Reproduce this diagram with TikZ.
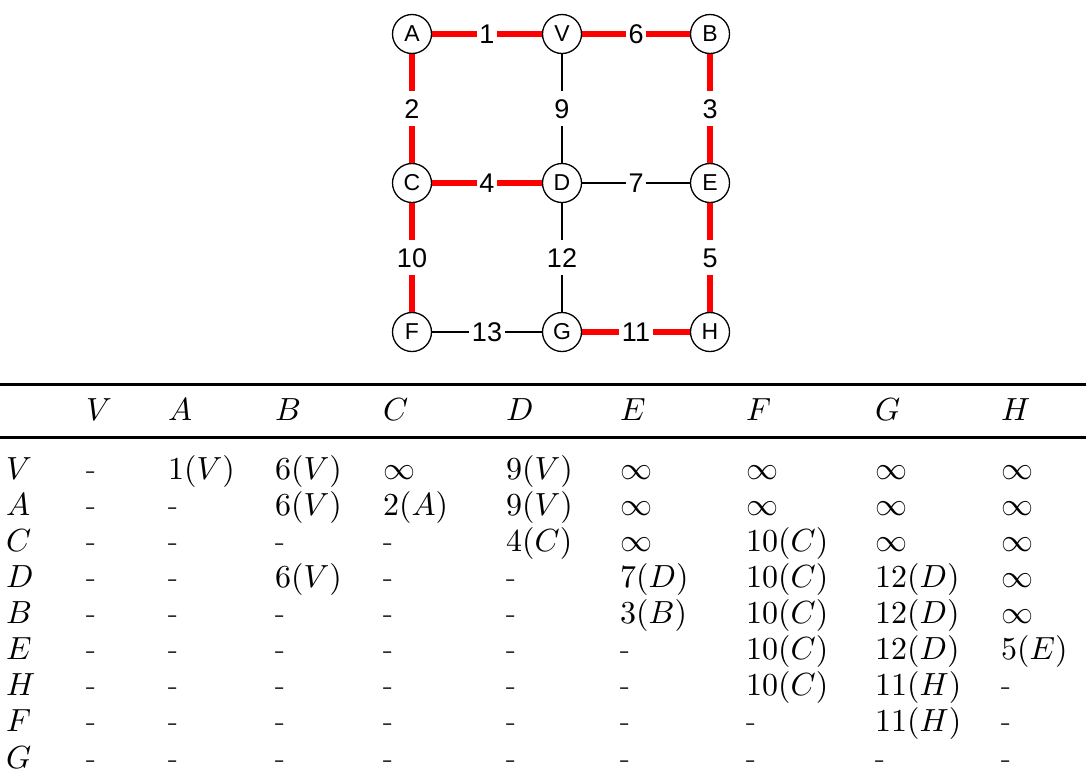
\documentclass[tikz,border=0pt]{standalone}
\usepackage{fontspec}
\DeclareFontShape{OT1}{cmr}{m}{n}{<->cmr10}{}
\DeclareFontShape{OML}{cmm}{m}{it}{<->cmmi10}{}
\DeclareFontShape{OMS}{cmsy}{m}{n}{<->cmsy10}{}
\DeclareFontShape{OMX}{cmex}{m}{n}{<->cmex10}{}
\newfontfamily\graphfont{Liberation Sans}
\newcommand\colxs{86,168,275,383,506,620,746,875,1001}
\newcommand\trow[3]{%
  \node[cell] (L#1) at (6,#2) {$#1$};
  \foreach[count=\j] \v in {#3} {%
    \pgfmathsetmacro\xx{{\colxs}[\j-1]}%
    \node[cell] (c#1\j) at (\xx,#2) {\v};
  }%
}
\begin{document}
\begin{tikzpicture}[x=1pt,y=-1pt,
  vtx/.style={circle, draw, line width=1.3pt, fill=white, minimum size=39pt, inner sep=0pt, font=\graphfont\fontsize{23}{26}\selectfont},
  tree/.style={draw=red, line width=5.5pt},
  plain/.style={draw=black, line width=1.3pt},
  wlab/.style={fill=white, inner xsep=2.5pt, inner ysep=0pt, minimum height=35pt, text height=19.3pt, text depth=0pt, font=\graphfont\fontsize{27}{31}\selectfont},
  cell/.style={anchor=base west, inner sep=0pt, font=\fontsize{32}{38}\selectfont}]
\useasboundingbox (0,0) rectangle (1086,777);

% graph vertices
\node[vtx] (A) at (412,34) {A};
\node[vtx] (V) at (562,34) {V};
\node[vtx] (B) at (710,34) {B};
\node[vtx] (C) at (412,183) {C};
\node[vtx] (D) at (562,183) {D};
\node[vtx] (E) at (710,183) {E};
\node[vtx] (F) at (412,332) {F};
\node[vtx] (G) at (562,332) {G};
\node[vtx] (H) at (710,332) {H};

% edges
\draw[tree] (A) -- node[wlab] {1} (V);
\draw[tree] (V) -- node[wlab] {6} (B);
\draw[tree] (A) -- node[wlab] {2} (C);
\draw[plain] (V) -- node[wlab] {9} (D);
\draw[tree] (B) -- node[wlab] {3} (E);
\draw[tree] (C) -- node[wlab] {4} (D);
\draw[plain] (D) -- node[wlab] {7} (E);
\draw[tree] (C) -- node[wlab] {10} (F);
\draw[plain] (D) -- node[wlab] {12} (G);
\draw[tree] (E) -- node[wlab] {5} (H);
\draw[plain] (F) -- node[wlab] {13} (G);
\draw[tree] (G) -- node[wlab] {11} (H);

% table rules
\coordinate (t1) at (0,384.5);
\coordinate (t2) at (1086,384.5);
\coordinate (m1) at (0,437.5);
\coordinate (m2) at (1086,437.5);
\draw[line width=2.5pt] (t1) -- (t2);
\draw[line width=2.4pt] (m1) -- (m2);

% header
\foreach[count=\j] \h in {V,A,B,C,D,E,F,G,H} {%
  \pgfmathsetmacro\xx{{\colxs}[\j-1]}%
  \node[cell] (h\j) at (\xx,420) {$\h$};
}

% rows
\trow{V}{479}{-,$1(V)$,$6(V)$,$\infty$,$9(V)$,$\infty$,$\infty$,$\infty$,$\infty$}
\trow{A}{515.1}{-,-,$6(V)$,$2(A)$,$9(V)$,$\infty$,$\infty$,$\infty$,$\infty$}
\trow{C}{551.3}{-,-,-,-,$4(C)$,$\infty$,$10(C)$,$\infty$,$\infty$}
\trow{D}{587.4}{-,-,$6(V)$,-,-,$7(D)$,$10(C)$,$12(D)$,$\infty$}
\trow{B}{623.5}{-,-,-,-,-,$3(B)$,$10(C)$,$12(D)$,$\infty$}
\trow{E}{659.6}{-,-,-,-,-,-,$10(C)$,$12(D)$,$5(E)$}
\trow{H}{695.8}{-,-,-,-,-,-,$10(C)$,$11(H)$,-}
\trow{F}{731.9}{-,-,-,-,-,-,-,$11(H)$,-}
\trow{G}{768}{-,-,-,-,-,-,-,-,-}
\end{tikzpicture}
\end{document}
